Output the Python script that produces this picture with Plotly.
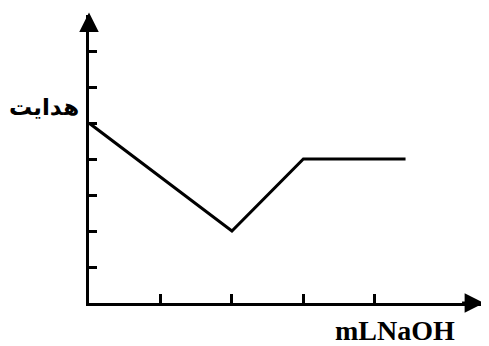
import plotly.graph_objects as go

# conductivity vs added NaOH volume (arbitrary grid units)
ml_naoh = [0, 2, 3, 4.43]
conductivity = [5, 2, 4, 4]
x_ticks = [1, 2, 3, 4]
y_ticks = [1, 2, 3, 4, 5, 6, 7]

fig = go.Figure()
fig.add_trace(go.Scatter(x=ml_naoh, y=conductivity, mode='lines',
                         line=dict(color='black', width=3), cliponaxis=False))

fig.update_xaxes(range=[0, 5.5], showline=True, linecolor='black', linewidth=3,
                 tickvals=x_ticks, ticks='inside', ticklen=9, tickwidth=3,
                 tickcolor='black', showticklabels=False, showgrid=False, zeroline=False)
fig.update_yaxes(range=[0, 8], showline=True, linecolor='black', linewidth=3,
                 tickvals=y_ticks, ticks='inside', ticklen=8, tickwidth=3,
                 tickcolor='black', showticklabels=False, showgrid=False, zeroline=False)

# arrow heads on the axes
fig.add_annotation(x=5.53, y=0, ax=5.2, ay=0, xref='x', yref='y', axref='x', ayref='y',
                   text='', showarrow=True, arrowhead=2, arrowsize=1.3, arrowwidth=3,
                   arrowcolor='black')
fig.add_annotation(x=0, y=8.07, ax=0, ay=7.6, xref='x', yref='y', axref='x', ayref='y',
                   text='', showarrow=True, arrowhead=2, arrowsize=1.3, arrowwidth=3,
                   arrowcolor='black')

fig.add_annotation(x=-0.1145, y=0.68, xref='paper', yref='paper', text='<b>هدایت</b>',
                   xanchor='center', yanchor='middle', showarrow=False,
                   font=dict(family='DejaVu Sans', size=23, color='black'))
fig.add_annotation(x=0.779, y=-0.097, xref='paper', yref='paper', text='<b>mLNaOH</b>',
                   xanchor='center', yanchor='middle', showarrow=False,
                   font=dict(family='Liberation Serif', size=28, color='black'))

# page body has an 8px margin, so shift the plot area back by that much
fig.update_layout(width=489, height=346, margin=dict(l=81, r=15, t=7, b=51),
                  plot_bgcolor='white', paper_bgcolor='white', showlegend=False)

fig.write_html("out.html")
